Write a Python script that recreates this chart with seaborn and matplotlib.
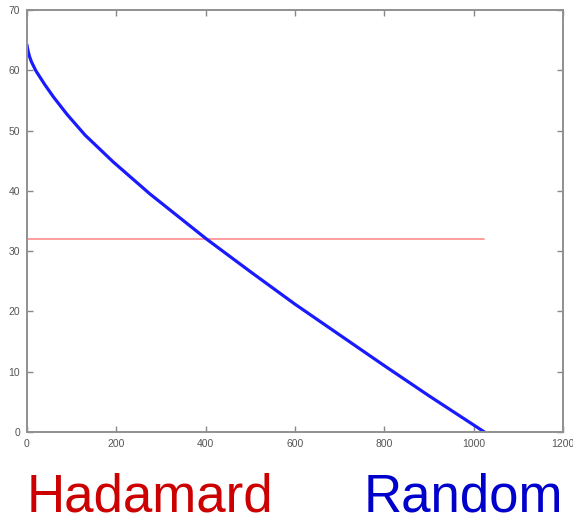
import matplotlib
matplotlib.use("Agg")
import matplotlib.pyplot as plt
import seaborn as sns
import pandas as pd

# Data
random_x = [0, 1, 3, 6, 10, 20, 40, 60, 90, 130, 193, 275, 402, 500, 600, 700, 800, 900, 1024]
random_y = [64.2, 63.7, 63.0, 62.2, 61.4, 59.9, 57.6, 55.5, 52.65, 49.25, 44.8, 39.5, 32.0,
            26.6, 21.2, 16.1, 11.0, 6.0, 0]
hadamard_x = [0, 1024]
hadamard_y = [32, 32]
x_ticks = [0, 200, 400, 600, 800, 1000, 1200]
y_ticks = [0, 10, 20, 30, 40, 50, 60, 70]
labels = ["Hadamard", "Random"]

sns.set_style("white")
plt.rcParams['font.family'] = ['Liberation Sans', 'DejaVu Sans']

fig = plt.figure(figsize=(5.73, 5.15), dpi=100)
ax = fig.add_axes([27/573, 1 - 432/515, (563 - 27)/573, (432 - 10)/515])

df_r = pd.DataFrame({"x": random_x, "y": random_y})
df_h = pd.DataFrame({"x": hadamard_x, "y": hadamard_y})
sns.lineplot(data=df_h, x="x", y="y", ax=ax, color="#ff7070", lw=1.2, alpha=0.8, sort=False)
sns.lineplot(data=df_r, x="x", y="y", ax=ax, color="#1a1aff", lw=2.3, sort=False)

ax.set_xlim(0, 1200)
ax.set_ylim(0, 70)
ax.set_xticks(x_ticks)
ax.set_yticks(y_ticks)
ax.set_xlabel("")
ax.set_ylabel("")
ax.tick_params(direction="in", length=4, width=1, colors="#888888",
               labelcolor="#555555", labelsize=7.5, top=True, right=True,
               bottom=True, left=True, pad=5)
for s in ax.spines.values():
    s.set_color("#909090")
    s.set_linewidth(1.4)
    s.set_visible(True)

fig.text(27/573, 1 - 511/515, labels[0], color="#cc0000", fontsize=38,
         ha="left", va="baseline")
fig.text(563/573, 1 - 511/515, labels[1], color="#0000cc", fontsize=38,
         ha="right", va="baseline")

fig.savefig("out.png", dpi=100)
